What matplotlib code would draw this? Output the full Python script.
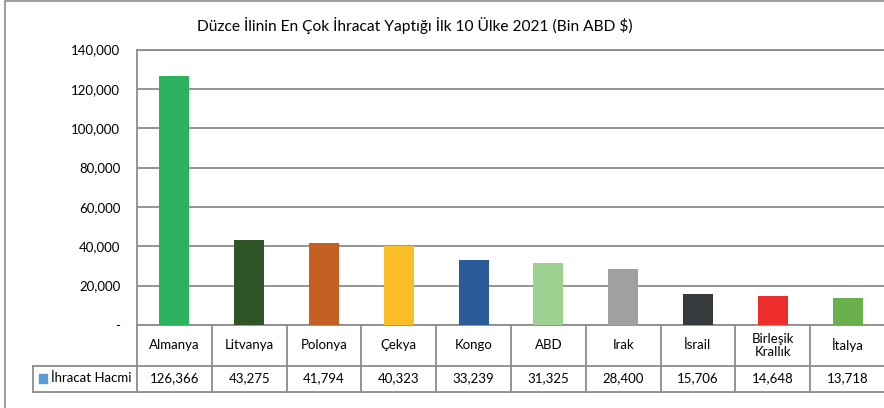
import matplotlib
matplotlib.use("Agg")
import matplotlib.pyplot as plt
import matplotlib.transforms as mtransforms
from matplotlib.patches import Rectangle
from matplotlib.ticker import FuncFormatter

plt.rcParams['font.family'] = ['Lato', 'DejaVu Sans']

# veri
ulkeler = ['Almanya', 'Litvanya', 'Polonya', 'Çekya', 'Kongo', 'ABD', 'Irak',
           'İsrail', 'Birleşik\nKrallık', 'İtalya']
ihracat = [126366, 43275, 41794, 40323, 33239, 31325, 28400, 15706, 14648, 13718]
renkler = ['#2bb35e', '#2e5428', '#c55f24', '#fbbd26', '#2b5a9b', '#9dd18f',
           '#a0a0a0', '#363a3d', '#ee2d2d', '#6ab04c']
seri_adi = 'İhracat Hacmi'
baslik = 'Düzce İlinin En Çok İhracat Yaptığı İlk 10 Ülke 2021 (Bin ABD $)'

grid_renk = '#8c8c8c'
fs = 9.5

fig = plt.figure(figsize=(8.84, 4.08), dpi=100)
ax = fig.add_axes([137/884, 83/408, 748/884, 275.5/408])

x = list(range(len(ulkeler)))
ax.bar(x, ihracat, width=0.4, color=renkler, zorder=3)

ax.set_xlim(-0.5, len(ulkeler) - 0.5)
ax.set_ylim(0, 140000)
ax.set_yticks(range(0, 140001, 20000))
ax.yaxis.set_major_formatter(FuncFormatter(lambda v, p: '-' if v == 0 else f'{int(v):,}'))
ax.tick_params(axis='y', length=0, pad=12, labelsize=fs)
ax.set_xticks([])
ax.grid(axis='y', color=grid_renk, linewidth=1.3, zorder=0)
for s in ['right', 'bottom']:
    ax.spines[s].set_visible(False)
for s in ['left', 'top']:
    ax.spines[s].set_color(grid_renk)
    ax.spines[s].set_linewidth(1.3)

# veri tablosu (alt kısım)
tr = mtransforms.blended_transform_factory(ax.transData, ax.transAxes)
h1 = -40.5 / 275.5
h2 = -66.5 / 275.5
sol = -1.39 - 0.5
kw = dict(color=grid_renk, linewidth=1.3, transform=tr, clip_on=False)
ax.plot([-0.5, len(ulkeler) - 0.5], [0, 0], **kw)
ax.plot([sol, len(ulkeler) - 0.5], [h1, h1], **kw)
ax.plot([sol, len(ulkeler) - 0.5], [h2, h2], **kw)
ax.plot([sol, sol], [h1, h2], **kw)
for i in range(len(ulkeler) + 1):
    ax.plot([i - 0.5, i - 0.5], [0, h2], **kw)

for i, (u, v) in enumerate(zip(ulkeler, ihracat)):
    ax.text(i, h1 / 2, u, ha='center', va='center', fontsize=fs,
            transform=tr, linespacing=1.1)
    ax.text(i, (h1 + h2) / 2, f'{v:,}', ha='center', va='center',
            fontsize=fs, transform=tr)

ax.add_patch(Rectangle((sol + 0.08, (h1 + h2) / 2 - 0.015), 0.11, 0.03,
                       color='#5b9bd5', transform=tr, clip_on=False))
ax.text(sol + 0.24, (h1 + h2) / 2, seri_adi, ha='left', va='center',
        fontsize=fs, transform=tr)

fig.suptitle(baslik, x=415/884, y=1 - 26/408, va='center', fontsize=11.2)

# dış çerçeve
fig.patches.append(Rectangle((4.5/884, -0.1), 2, 1.1 - 1.5/408, fill=False,
                             edgecolor=grid_renk, linewidth=1.2,
                             transform=fig.transFigure, figure=fig))

fig.savefig('out.png', dpi=100)
